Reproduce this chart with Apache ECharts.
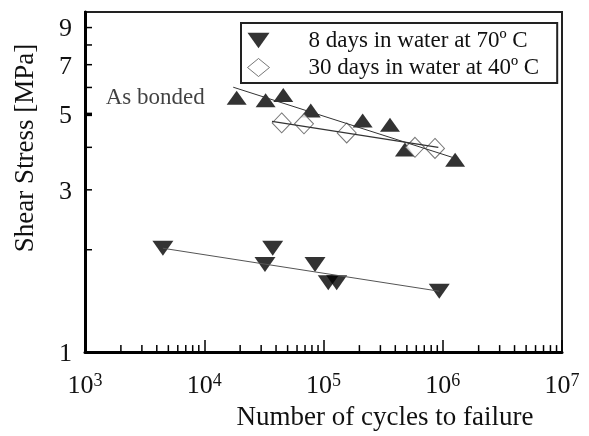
<!DOCTYPE html>
<html>
<head>
<meta charset="utf-8">
<script src="https://cdn.jsdelivr.net/npm/echarts@6/dist/echarts.min.js"></script>
<style>
  html, body { margin: 0; padding: 0; background: #fff; }
  #chart { width: 589px; height: 436px; }
</style>
</head>
<body>
<div id="chart"></div>
<script>
// ---- data ----
const water70Cycles = [4500, 32300, 37500, 84900, 109600, 129000, 935000];
const water70Stress = [2.02, 1.81, 2.02, 1.81, 1.60, 1.60, 1.51];

const water40Cycles = [44600, 68600, 156500, 585000, 861000];
const water40Stress = [4.72, 4.69, 4.41, 4.00, 3.97];

const bondedCycles = [18700, 32700, 46000, 78200, 213000, 361000, 482000, 1270000];
const bondedStress = [5.60, 5.50, 5.70, 5.13, 4.80, 4.66, 3.94, 3.68];

// fitted trend lines (end points)
const fit70Cycles = [4500, 935000];
const fit70Stress = [2.02, 1.51];
const fit40Cycles = [37000, 918000];
const fit40Stress = [4.77, 4.00];
const fitBondedCycles = [17500, 1226000];
const fitBondedStress = [6.01, 3.73];

// axes
const xMin = 1e3, xMax = 1e7, yMin = 1, yMax = 10;
const xDecades = [1e3, 1e4, 1e5, 1e6];
const minorMultipliers = [2, 3, 4, 5, 6, 7, 8, 9];
const yTickValues = [2, 3, 4, 5, 6, 7, 8, 9];
const yTickLabels = [1, 3, 5, 7, 9];

const legendNames = ['8 days in water at 70º C', '30 days in water at 40º C'];
const bondedName = 'As bonded';
const xTitle = 'Number of cycles to failure';
const yTitle = 'Shear Stress [MPa]';

const FONT = '"Liberation Serif", "Times New Roman", serif';

function zip(a, b) { return a.map((v, i) => [v, b[i]]); }

const xMinorTicks = [];
xDecades.forEach(d => minorMultipliers.forEach(m => xMinorTicks.push(d * m)));

function renderAxisExtras(params, api) {
  const children = [];
  xMinorTicks.forEach(v => {
    const p = api.coord([v, yMin]);
    children.push({ type: 'line', shape: { x1: p[0], y1: p[1], x2: p[0], y2: p[1] - 7 },
      style: { stroke: '#000', lineWidth: 1.5 } });
  });
  yTickValues.forEach(v => {
    const p = api.coord([xMin, v]);
    children.push({ type: 'line', shape: { x1: p[0], y1: p[1], x2: p[0] + 7, y2: p[1] },
      style: { stroke: '#000', lineWidth: v === 5 ? 3.5 : 1.5 } });
  });
  yTickLabels.forEach(v => {
    const p = api.coord([xMin, v]);
    children.push({ type: 'text', x: p[0] - 13, y: p[1] + 2,
      style: { text: String(v), align: 'right', verticalAlign: 'middle',
        textAlign: 'right', textVerticalAlign: 'middle',
        fontSize: 26, fontFamily: FONT, fill: '#111' } });
  });
  return { type: 'group', children };
}

const chart = echarts.init(document.getElementById('chart'), null, { renderer: 'canvas' });
chart.setOption({
  backgroundColor: '#fff',
  animation: false,
  grid: { left: 85, top: 12, right: 27, bottom: 83, show: true, borderColor: '#222', borderWidth: 2 },
  xAxis: {
    type: 'log', logBase: 10, min: xMin, max: xMax,
    axisLine: { show: true, lineStyle: { color: '#000', width: 3 } },
    axisTick: { show: true, inside: true, length: 12, lineStyle: { color: '#000', width: 1.5 } },
    splitLine: { show: false },
    axisLabel: {
      margin: 20, fontSize: 26, fontFamily: FONT, color: '#111',
      formatter: v => '10{s|' + Math.round(Math.log10(v)) + '}',
      rich: { s: { fontSize: 18, fontFamily: FONT, color: '#111', verticalAlign: 'top', padding: [0, 0, 10, 0] } }
    },
    name: xTitle, nameLocation: 'middle', nameGap: 43,
    nameTextStyle: { fontSize: 27, fontFamily: FONT, color: '#111', padding: [0, 0, 0, 123] }
  },
  yAxis: {
    type: 'log', logBase: 10, min: yMin, max: yMax,
    axisLine: { show: true, lineStyle: { color: '#000', width: 3 } },
    axisTick: { show: false },
    axisLabel: { show: false },
    splitLine: { show: false },
    name: yTitle, nameLocation: 'middle', nameGap: 46, nameRotate: 90,
    nameTextStyle: { fontSize: 27, fontFamily: FONT, color: '#111', padding: [0, 0, 0, 68] }
  },
  legend: {
    orient: 'vertical', left: 241, top: 23,
    padding: [6, 18, 4, 6], itemGap: 4, itemWidth: 22, itemHeight: 18,
    borderColor: '#222', borderWidth: 2, backgroundColor: '#fff',
    textStyle: { fontSize: 23, fontFamily: FONT, color: '#111', padding: [0, 0, 0, 34] },
    data: [
      { name: legendNames[0], icon: 'path://M0,0 L20,0 L10,14 Z', itemStyle: { color: '#000' } },
      { name: legendNames[1], icon: 'diamond', itemStyle: { color: '#fff', borderColor: '#555', borderWidth: 1 } }
    ]
  },
  series: [
    {
      name: bondedName, type: 'scatter', symbol: 'triangle', symbolSize: [20, 14], z: 2,
      itemStyle: { color: '#000' },
      label: {
        show: true, position: 'left', distance: 22, fontSize: 23, fontFamily: FONT, color: '#111',
        formatter: p => (p.dataIndex === 0 ? bondedName : '')
      },
      data: zip(bondedCycles, bondedStress)
    },
    {
      name: legendNames[0], type: 'scatter', symbol: 'triangle', symbolRotate: 180, symbolSize: [21, 15], z: 2,
      itemStyle: { color: '#000' },
      data: zip(water70Cycles, water70Stress)
    },
    {
      name: legendNames[1], type: 'scatter', symbol: 'diamond', symbolSize: [19, 20], z: 3,
      itemStyle: { color: '#fff', borderColor: '#555', borderWidth: 1 },
      data: zip(water40Cycles, water40Stress)
    },
    { type: 'line', name: 'fit70', showSymbol: false, z: 4, silent: true,
      lineStyle: { color: '#555', width: 1 }, data: zip(fit70Cycles, fit70Stress) },
    { type: 'line', name: 'fit40', showSymbol: false, z: 4, silent: true,
      lineStyle: { color: '#333', width: 1.2 }, data: zip(fit40Cycles, fit40Stress) },
    { type: 'line', name: 'fitBonded', showSymbol: false, z: 4, silent: true,
      lineStyle: { color: '#333', width: 1 }, data: zip(fitBondedCycles, fitBondedStress) },
    { type: 'custom', name: 'axisExtras', z: 5, silent: true, renderItem: renderAxisExtras, data: [[xMin, yMin]] }
  ]
});
</script>
</body>
</html>
